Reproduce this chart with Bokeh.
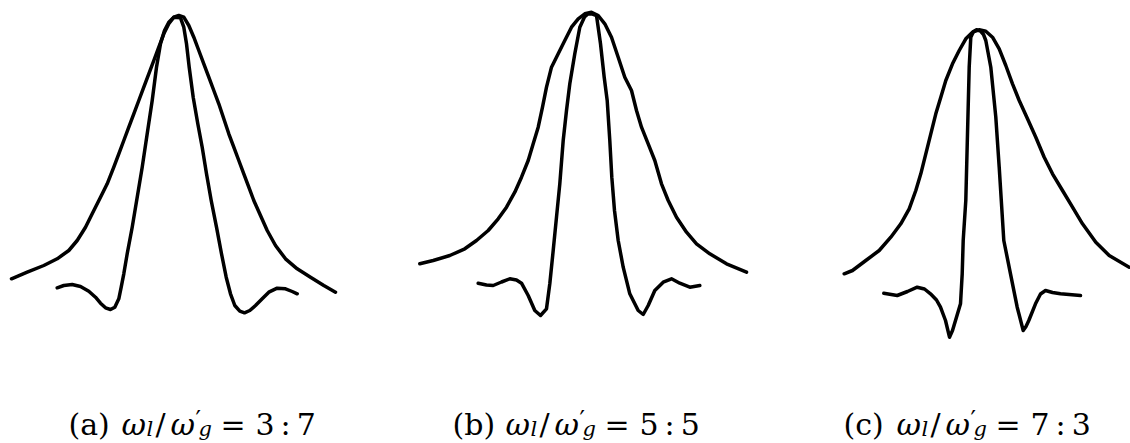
from bokeh.plotting import figure
from bokeh.layouts import row
from bokeh.models import Range1d
from bokeh.embed import file_html
from bokeh.resources import INLINE
from bokeh.core.properties import value

# ---------------- data (arbitrary units: detuning offset, intensity) ----------------
panel_labels = ["(a)", "(b)", "(c)"]
ratio_labels = ["3\u2009:\u20097", "5\u2009:\u20095", "7\u2009:\u20093"]

# (a) w_l / w'_g = 3 : 7
a_broad_x = [-166, -150.3, -133.7, -120.3, -108.7, -100.3, -92, -85.3, -77, -70.3, -63.7, -58.7,
             -53.7, -48.7, -43.7, -38.7, -33.7, -28.7, -23.7, -18.7, -13.7, -8.7, -3.7, 1.3,
             6.3, 11.3, 16.3, 21.3, 26.3, 31.3, 36.3, 41.3, 46.3, 51.3, 56.3, 61.3, 66.3, 71.3,
             76.3, 83, 89.7, 98, 108, 119.7, 133, 146.3, 158]
a_broad_y = [16.7, 23.3, 30, 36.7, 45, 55, 68.3, 81.7, 98.3, 111.7, 128.3, 141.7,
             155, 168.3, 181.7, 195, 208.3, 221.7, 235, 248.3, 261.7, 271.7, 278.3, 280,
             278.3, 270, 258.3, 245, 231.7, 218.3, 205, 191.7, 176.7, 161.7, 148.3, 135, 121.7, 108.3,
             95, 80, 65, 50, 36.7, 26.7, 18.3, 10, 3.3]
a_narrow_x = [-120.3, -113.7, -105.3, -97, -88.7, -82, -77, -72, -67, -62.7, -58.7, -56.3, -53.7,
              -50.3, -45.3, -40.3, -35.3, -30.3, -25.3, -21, -17, -13, -8.7, -3.7,
              3, 6.3, 9, 11.7, 15.7, 20.3, 24.7, 29, 33.7, 39, 44, 48.7, 53, 57.3, 62.3, 67,
              72.3, 78, 84.7, 91.3, 99.7, 108, 114.7, 119.7]
a_narrow_y = [7.7, 10, 11, 9, 4.3, -1.7, -7.7, -12.3, -14, -11.7, -3.3, 8.3, 21.7,
              41.7, 68.3, 98.3, 128.3, 161.7, 195, 228.3, 251.7, 265, 273.3, 278.3,
              277.7, 268.3, 251.7, 228.3, 198.3, 171.7, 148.3, 121.7, 95, 68.3, 41.7, 18.3, 1.7, -10, -15.7, -17.3,
              -15, -10, -3.3, 3.3, 7.3, 6.7, 4, 1.7]

# (b) w_l / w'_g = 5 : 5
b_broad_x = [-169.7, -156.3, -139.7, -124.7, -113, -101.3, -91.3, -83, -74.7, -68, -61.3, -56.3,
             -51.3, -47, -43, -38, -31.3, -24.7, -18, -11.3, -4.7, 2,
             8.7, 15.3, 22, 28.7, 35.3, 42, 47, 52, 58.7, 65.3, 72, 78.7, 87, 97, 107, 120.3, 137, 157]
b_broad_y = [31.7, 35, 40, 46.7, 55, 65, 76.7, 88.3, 103.3, 118.3, 135, 151.7,
             168.3, 188.3, 208.3, 228.3, 241.7, 255, 268.3, 276.7, 281.7, 283.3,
             280, 271.7, 258.3, 238.3, 218.3, 205, 185, 168.3, 151.7, 135, 111.7, 95, 78.3, 63.3, 51.7, 41.7, 31.7, 23.3]
b_narrow_x = [-111.3, -103, -96.3, -88, -79.7, -73, -68, -61.3, -54.7, -49, -43, -39.7, -36.3, -33,
              -29.7, -26.3, -23, -19.7, -14.7, -9.7, -5, -1.3, 3, 7, 11, 14.7, 17.7, 20.3, 22.3, 25,
              28.7, 33.7, 40.3, 48.7, 53.7, 58.7, 65.3, 73.7, 82, 90.3, 100.3, 110.3]
b_narrow_y = [12.3, 10.5, 10, 13.5, 16.7, 15.5, 12.3, 0, -15, -20, -13.3, 11.7, 45, 78.3,
              111.7, 155, 185, 211.7, 241.7, 268.3, 278.5, 281.7, 281.5, 280, 251.7, 218.3, 195, 155, 118.3, 85,
              55, 28.3, 1.7, -15, -19, -10, 5, 13.3, 16.7, 12.3, 8.3, 10]

# (c) w_l / w'_g = 7 : 3
c_broad_x = [-135.3, -127, -113.7, -100.3, -88.7, -78.7, -70.3, -63.7, -58.7, -53.7, -48.7, -43.7,
             -38.7, -33.7, -27, -20.3, -13.7, -7, -0.3,
             6.3, 13, 19.7, 26.3, 33, 39.7, 48, 56.3, 64.7, 73, 83, 93, 103, 116.3, 129.7, 149.7]
c_broad_y = [21.7, 25, 35, 45, 58.3, 71.7, 86.7, 105, 121.7, 141.7, 161.7, 181.7,
             198.3, 215, 231.7, 245, 256.7, 263.3, 265.7,
             264.3, 258.3, 246.7, 230, 211.7, 195, 176.7, 158.3, 138.3, 121.7, 105, 88.3, 71.7, 53.3, 40, 28.3]
c_narrow_x = [-95.7, -82.3, -72, -62.3, -55, -49, -43, -39, -34, -30, -27, -24, -19, -17.3, -16.3,
              -13.7, -12, -10.3, -8.7, -6, -3, 1, 4, 6.3, 11.3, 16.3, 19.7, 24.3, 31, 37.7, 43.7,
              46.5, 49.3, 56, 61, 66, 73, 81, 101]
c_narrow_y = [2.3, 0, 4, 8.3, 6.5, 1.7, -4.5, -11.7, -25, -41.7, -35, -25, -8.3, 21.7, 55,
              95, 161.7, 228.3, 258.3, 264, 265.7, 264.5, 261, 255, 228.3, 178.3, 128.3, 55, 21.7, -11.7, -35,
              -31, -25, -8.3, 1.5, 5, 3, 1.7, 0]

# ---------------- layout ----------------
BASE = 295            # page-pixel row of zero intensity
PAGE_H = 443
frames = [(0, 376), (376, 752), (752, 1130)]
centers = [177, 589, 979]
cap_start = [68, 452, 843]

curves = [
    (a_broad_x, a_broad_y, a_narrow_x, a_narrow_y),
    (b_broad_x, b_broad_y, b_narrow_x, b_narrow_y),
    (c_broad_x, c_broad_y, c_narrow_x, c_narrow_y),
]

FONT = value("DejaVu Serif")

figs = []
for i in range(3):
    l, r = frames[i]
    cx = centers[i]
    p = figure(width=r - l, height=PAGE_H,
               x_range=Range1d(l - cx, r - cx), y_range=Range1d(BASE - PAGE_H, BASE),
               output_backend="svg", toolbar_location=None, min_border=0,
               x_axis_location=None, y_axis_location=None, outline_line_color=None,
               background_fill_color="white", border_fill_color="white")
    p.grid.visible = False
    bx, by, nx, ny = curves[i]
    for xs, ys in ((bx, by), (nx, ny)):
        p.line(xs, ys, line_width=3.5, line_color="black", line_join="round", line_cap="round")

    s = cap_start[i] - cx
    pieces = [
        (panel_labels[i], 0, 424, "30px", "normal"),
        ("\u03c9", 53, 424, "30px", "italic"),
        ("l", 78, 428, "21px", "italic"),
        ("/", 87, 424, "30px", "normal"),
        ("\u03c9", 102, 424, "30px", "italic"),
        ("\u2032", 127, 419, "24px", "normal"),
        ("g", 130, 428, "21px", "italic"),
        ("=", 152, 424, "30px", "normal"),
        (ratio_labels[i], 187, 424, "30px", "normal"),
    ]
    for txt, dx, py, size, style in pieces:
        p.text(x=[s + dx], y=[BASE - py], text=[txt], text_font=FONT, text_font_size=size,
               text_font_style=style, text_color="black", text_align="left",
               text_baseline="alphabetic")
    figs.append(p)

layout = row(*figs, spacing=0)
open("out.html", "w").write(file_html(layout, INLINE))
